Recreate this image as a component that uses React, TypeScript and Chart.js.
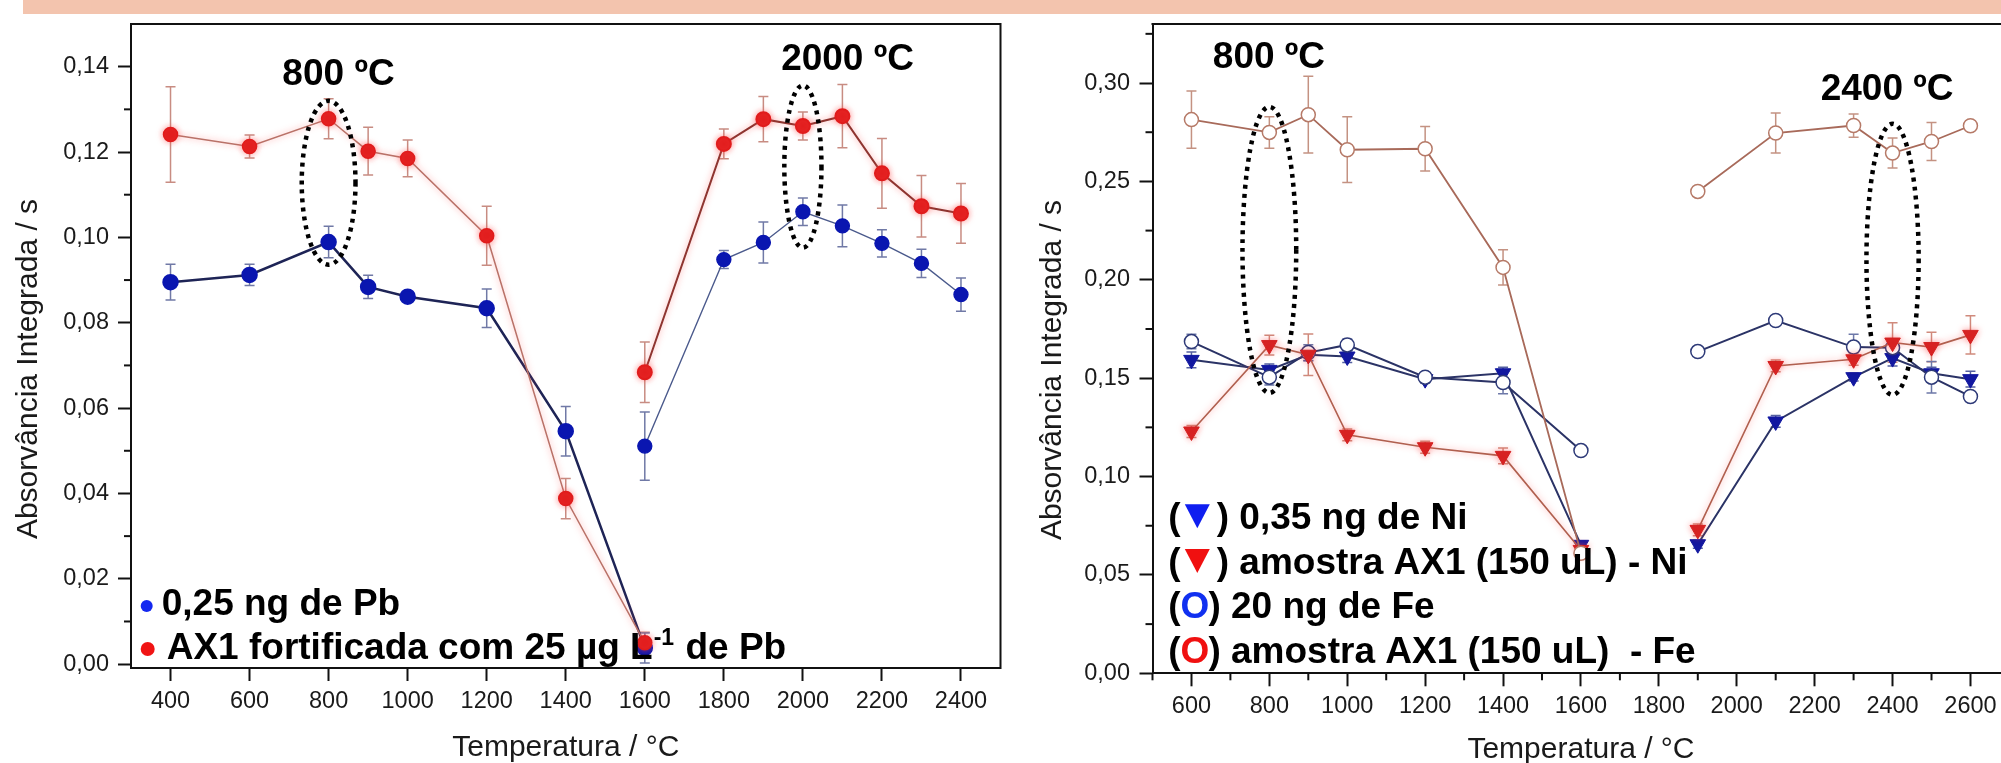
import React, { useEffect, useRef } from 'react';
import { Chart, registerables } from 'chart.js';

Chart.register(...registerables);

const FONT = "'Liberation Sans', Arial, Helvetica, sans-serif";

// ---------------- Left chart: Pb ----------------
const pbTempA = [400, 600, 800, 900, 1000, 1200, 1400, 1600];
const pbTempB = [1600, 1800, 1900, 2000, 2100, 2200, 2300, 2400];
const pbStdA = [0.0895, 0.0912, 0.0989, 0.0884, 0.0861, 0.0834, 0.0546, 0.0038];
const pbStdErrA = [0.0042, 0.0025, 0.0037, 0.0027, 0.001, 0.0045, 0.0058, 0.0035];
const pbStdB = [0.0511, 0.0948, 0.0988, 0.106, 0.1027, 0.0986, 0.0939, 0.0866];
const pbStdErrB = [0.008, 0.0021, 0.0048, 0.0032, 0.0049, 0.0032, 0.0033, 0.0039];
const pbSampleA = [0.1241, 0.1213, 0.1278, 0.1202, 0.1185, 0.1004, 0.0388, 0.005];
const pbSampleErrA = [0.0112, 0.0027, 0.0047, 0.0056, 0.0043, 0.0069, 0.0047, 0.0025];
const pbSampleB = [0.0684, 0.1219, 0.1277, 0.1261, 0.1284, 0.115, 0.1073, 0.1056];
const pbSampleErrB = [0.0071, 0.0035, 0.0053, 0.0033, 0.0074, 0.0082, 0.0072, 0.007];
const pbXTicks = [400, 600, 800, 1000, 1200, 1400, 1600, 1800, 2000, 2200, 2400];
const pbYTicks = [0, 0.02, 0.04, 0.06, 0.08, 0.1, 0.12, 0.14];
const pbYMinor = [0.01, 0.03, 0.05, 0.07, 0.09, 0.11, 0.13];

// ---------------- Right chart: Ni / Fe ----------------
const nfTempA = [600, 800, 900, 1000, 1200, 1400, 1600];
const nfTempB = [1900, 2100, 2300, 2400, 2500, 2600];
const feSampleA = [0.2814, 0.2749, 0.2839, 0.2661, 0.2666, 0.2063, 0.061];
const feSampleErrA = [0.0145, 0.008, 0.0195, 0.0167, 0.0113, 0.009, 0.002];
const feSampleB = [0.2449, 0.2746, 0.2784, 0.2644, 0.2703, 0.2783];
const feSampleErrB = [0.0025, 0.0102, 0.0059, 0.0076, 0.0097, 0.002];
const feStdA = [0.1686, 0.1505, 0.163, 0.1669, 0.1505, 0.1478, 0.1132];
const feStdErrA = [0.0037, 0.004, 0.004, 0.003, 0.002, 0.0057, 0.002];
const feStdB = [0.1635, 0.1793, 0.1658, 0.1655, 0.1505, 0.1407];
const feStdErrB = [0.002, 0.002, 0.0065, 0.003, 0.008, 0.0025];
const niStdA = [0.1593, 0.1542, 0.1619, 0.161, 0.1495, 0.1525, 0.0653];
const niStdErrA = [0.004, 0.003, 0.003, 0.003, 0.002, 0.003, 0.002];
const niStdB = [0.0656, 0.128, 0.1505, 0.1602, 0.1525, 0.1495];
const niStdErrB = [0.002, 0.003, 0.002, 0.004, 0.003, 0.004];
const niSampleA = [0.1229, 0.1668, 0.1619, 0.1212, 0.1149, 0.1105, 0.0627];
const niSampleErrA = [0.003, 0.005, 0.0105, 0.003, 0.003, 0.004, 0.003];
const niSampleB = [0.0729, 0.1562, 0.1596, 0.1681, 0.1658, 0.172];
const niSampleErrB = [0.003, 0.003, 0.003, 0.01, 0.0075, 0.0097];
const nfXTicks = [600, 800, 1000, 1200, 1400, 1600, 1800, 2000, 2200, 2400, 2600];
const nfXMinor = [500, 700, 900, 1100, 1300, 1500, 1700, 1900, 2100, 2300, 2500, 2700];
const nfYTicks = [0, 0.05, 0.1, 0.15, 0.2, 0.25, 0.3];
const nfYMinor = [0.025, 0.075, 0.125, 0.175, 0.225, 0.275, 0.325];

const Y_TITLE = 'Absorvância Integrada / s';
const X_TITLE = 'Temperatura / °C';

const pts = (xs: number[], ys: number[]) => xs.map((x, i) => ({ x, y: ys[i] }));

// ---------------- plugins ----------------
const errorBarPlugin = {
  id: 'errorBars',
  beforeDatasetsDraw(chart: any) {
    const { ctx, scales } = chart;
    const xs = scales.x, ys = scales.y;
    chart.data.datasets.forEach((ds: any) => {
      if (!ds.errors) return;
      ctx.save();
      ctx.strokeStyle = ds.errorColor;
      ctx.lineWidth = 1.5;
      ds.data.forEach((p: any, i: number) => {
        const e = ds.errors[i];
        if (!e || p.y == null) return;
        const px = xs.getPixelForValue(p.x);
        const y1 = ys.getPixelForValue(p.y + e);
        const y2 = ys.getPixelForValue(p.y - e);
        ctx.beginPath();
        ctx.moveTo(px, y1); ctx.lineTo(px, y2);
        ctx.moveTo(px - 5, y1); ctx.lineTo(px + 5, y1);
        ctx.moveTo(px - 5, y2); ctx.lineTo(px + 5, y2);
        ctx.stroke();
      });
      ctx.restore();
    });
  },
};

const glowPlugin = {
  id: 'glow',
  beforeDatasetDraw(chart: any, args: any) {
    const ds = chart.data.datasets[args.index];
    if (ds.glow) {
      chart.ctx.shadowColor = ds.glow;
      chart.ctx.shadowBlur = 6;
    }
  },
  afterDatasetDraw(chart: any) {
    chart.ctx.shadowColor = 'rgba(0,0,0,0)';
    chart.ctx.shadowBlur = 0;
  },
};

const minorTickPlugin = {
  id: 'minorTicks',
  afterDraw(chart: any, _a: any, opts: any) {
    const { ctx, chartArea, scales } = chart;
    ctx.save();
    ctx.strokeStyle = '#111';
    ctx.lineWidth = 2;
    (opts.x || []).forEach((v: number) => {
      const px = scales.x.getPixelForValue(v);
      ctx.beginPath(); ctx.moveTo(px, chartArea.bottom); ctx.lineTo(px, chartArea.bottom + 7); ctx.stroke();
    });
    (opts.y || []).forEach((v: number) => {
      const py = scales.y.getPixelForValue(v);
      ctx.beginPath(); ctx.moveTo(chartArea.left, py); ctx.lineTo(chartArea.left - 7, py); ctx.stroke();
    });
    // frame: top and right edges
    ctx.beginPath();
    ctx.moveTo(chartArea.left - 1, chartArea.top);
    ctx.lineTo(chartArea.right, chartArea.top);
    ctx.lineTo(chartArea.right, chartArea.bottom + 1);
    ctx.stroke();
    // rotated y-axis title
    ctx.translate(opts.titleX, opts.titleY);
    ctx.rotate(-Math.PI / 2);
    ctx.font = `30px ${FONT}`;
    ctx.fillStyle = '#1a1a1a';
    ctx.textAlign = 'center';
    ctx.textBaseline = 'middle';
    ctx.fillText(Y_TITLE, 0, 0);
    ctx.restore();
  },
};

const annotationPlugin = {
  id: 'annot',
  afterDatasetsDraw(chart: any, _a: any, opts: any) {
    const { ctx, scales } = chart;
    const xs = scales.x, ys = scales.y;
    ctx.save();
    (opts.ellipses || []).forEach((e: any) => {
      const cx = xs.getPixelForValue(e.x), cy = ys.getPixelForValue(e.y);
      const rx = Math.abs(xs.getPixelForValue(e.x + e.rx) - cx);
      const ry = Math.abs(ys.getPixelForValue(e.y + e.ry) - cy);
      ctx.beginPath();
      ctx.setLineDash([4, 5]);
      ctx.lineWidth = 4.5;
      ctx.strokeStyle = '#000';
      ctx.ellipse(cx, cy, rx, ry, 0, 0, Math.PI * 2);
      ctx.stroke();
    });
    ctx.setLineDash([]);
    ctx.fillStyle = '#000';
    ctx.font = `bold 37px ${FONT}`;
    ctx.textAlign = 'center';
    ctx.textBaseline = 'alphabetic';
    (opts.labels || []).forEach((l: any) => {
      ctx.fillText(l.text, xs.getPixelForValue(l.x), ys.getPixelForValue(l.y));
    });
    ctx.restore();
  },
};

const leftLegendPlugin = {
  id: 'leftLegend',
  afterDraw(chart: any) {
    const { ctx, chartArea } = chart;
    const L = chartArea.left, B = chartArea.bottom;
    ctx.save();
    ctx.textAlign = 'left';
    ctx.textBaseline = 'alphabetic';
    ctx.fillStyle = '#1428F0';
    ctx.beginPath(); ctx.arc(L + 15.7, B - 62, 6, 0, Math.PI * 2); ctx.fill();
    ctx.fillStyle = '#F01414';
    ctx.beginPath(); ctx.arc(L + 16.7, B - 19, 7, 0, Math.PI * 2); ctx.fill();
    ctx.fillStyle = '#000';
    ctx.font = `bold 37px ${FONT}`;
    ctx.fillText('0,25 ng de Pb', L + 30.7, B - 53);
    let x = L + 35.7;
    const base = B - 9;
    const t1 = 'AX1 fortificada com 25 µg L';
    ctx.fillText(t1, x, base);
    x += ctx.measureText(t1).width;
    ctx.font = `bold 23px ${FONT}`;
    ctx.fillText('-1', x + 1, base - 14);
    x += ctx.measureText('-1').width + 2;
    ctx.font = `bold 37px ${FONT}`;
    ctx.fillText(' de Pb', x, base);
    ctx.restore();
  },
};

const rightLegendPlugin = {
  id: 'rightLegend',
  afterDraw(chart: any) {
    const { ctx, chartArea } = chart;
    const L = chartArea.left, B = chartArea.bottom;
    ctx.save();
    ctx.textAlign = 'left';
    ctx.textBaseline = 'alphabetic';
    ctx.font = `bold 37px ${FONT}`;
    const x0 = L + 15.8;
    const tri = (color: string, base: number, text: string) => {
      ctx.fillStyle = '#000';
      ctx.fillText('(', x0, base);
      ctx.fillStyle = color;
      const cx = x0 + 29;
      ctx.beginPath();
      ctx.moveTo(cx - 12.5, base - 25);
      ctx.lineTo(cx + 12.5, base - 25);
      ctx.lineTo(cx, base - 1);
      ctx.closePath();
      ctx.fill();
      ctx.fillStyle = '#000';
      ctx.fillText(')', x0 + 48.4, base);
      ctx.fillText(text, x0 + 48.4 + ctx.measureText(')').width, base);
    };
    const circ = (color: string, base: number, text: string) => {
      let x = x0;
      ctx.fillStyle = '#000';
      ctx.fillText('(', x, base);
      x += ctx.measureText('(').width;
      ctx.fillStyle = color;
      ctx.fillText('O', x, base);
      x += ctx.measureText('O').width - 1;
      ctx.fillStyle = '#000';
      ctx.fillText(text, x, base);
    };
    tri('#0F1EF0', B - 144, ' 0,35 ng de Ni');
    tri('#F01010', B - 99.3, ' amostra AX1 (150 uL) - Ni');
    circ('#1030F0', B - 55, ') 20 ng de Fe');
    circ('#F01010', B - 10, ') amostra AX1 (150 uL)  - Fe');
    ctx.restore();
  },
};

const tickFont = { family: FONT, size: 23.5 };
const titleFont = { family: FONT, size: 30, lineHeight: 1 };
const gridOpts = { display: true, drawOnChartArea: false, drawTicks: true, tickLength: 13, tickWidth: 2, tickColor: '#111' };
const borderOpts = { display: true, color: '#111', width: 2 };
const fmtY = (v: any) => Number(v).toFixed(2).replace('.', ',');

function leftConfig(): any {
  return {
    type: 'line',
    data: {
      datasets: [
        { label: 'AX1 fortificada A', data: pts(pbTempA, pbSampleA), errors: pbSampleErrA, errorColor: '#C88C82', glow: 'rgba(255,70,70,0.55)',
          borderColor: '#B97268', borderWidth: 1.5, pointBackgroundColor: '#E01C1C', pointBorderColor: '#E01C1C', pointRadius: 7 },
        { label: 'AX1 fortificada B', data: pts(pbTempB, pbSampleB), errors: pbSampleErrB, errorColor: '#C88C82', glow: 'rgba(255,70,70,0.55)',
          borderColor: '#8E3530', borderWidth: 2, pointBackgroundColor: '#E01C1C', pointBorderColor: '#E01C1C', pointRadius: 7 },
        { label: '0,25 ng de Pb A', data: pts(pbTempA, pbStdA), errors: pbStdErrA, errorColor: '#7079A6',
          borderColor: '#1E2456', borderWidth: 2.5, pointBackgroundColor: '#0A16B0', pointBorderColor: '#0A16B0', pointRadius: 7 },
        { label: '0,25 ng de Pb B', data: pts(pbTempB, pbStdB), errors: pbStdErrB, errorColor: '#7079A6',
          borderColor: '#4B5A8C', borderWidth: 1.4, pointBackgroundColor: '#0A16B0', pointBorderColor: '#0A16B0', pointRadius: 7 },
      ],
    },
    options: {
      animation: false,
      responsive: false,
      devicePixelRatio: 1,
      events: [],
      layout: { padding: { left: 0, top: 24, right: 8, bottom: 0 } },
      plugins: {
        legend: { display: false },
        tooltip: { enabled: false },
        minorTicks: { y: pbYMinor, titleX: 29, titleY: 369 },
        annot: {
          ellipses: [
            { x: 800, y: 0.1128, rx: 68, ry: 0.0192 },
            { x: 2000, y: 0.1166, rx: 47, ry: 0.019 },
          ],
          labels: [
            { text: '800 ºC', x: 825, y: 0.1358 },
            { text: '2000 ºC', x: 2113, y: 0.1393 },
          ],
        },
      },
      scales: {
        x: {
          type: 'linear', position: 'bottom', min: 300, max: 2500,
          afterBuildTicks: (axis: any) => { axis.ticks = pbXTicks.map((value) => ({ value })); },
          afterFit: (s: any) => { s.height = 95; },
          ticks: { font: tickFont, color: '#1a1a1a', padding: 6, maxRotation: 0, autoSkip: false, callback: (v: any) => String(v) },
          grid: gridOpts, border: borderOpts,
          title: { display: true, text: X_TITLE, font: titleFont, color: '#1a1a1a', padding: { top: 0, bottom: 0 } },
        },
        y: {
          type: 'linear', position: 'left', min: -0.0009, max: 0.15,
          afterBuildTicks: (axis: any) => { axis.ticks = pbYTicks.map((value) => ({ value })); },
          afterFit: (s: any) => { s.width = 131; },
          ticks: { font: tickFont, color: '#1a1a1a', padding: 9, callback: fmtY },
          grid: gridOpts, border: borderOpts,
          title: { display: false },
        },
      },
    },
    plugins: [errorBarPlugin, glowPlugin, minorTickPlugin, annotationPlugin, leftLegendPlugin],
  };
}

function rightConfig(): any {
  const redCircle = { borderColor: '#A86A5A', borderWidth: 1.8, pointStyle: 'circle', pointRadius: 7,
    pointBackgroundColor: '#ffffff', pointBorderColor: '#B67A68', pointBorderWidth: 1.5, errorColor: '#C49282' };
  const blueCircle = { borderColor: '#2B3366', borderWidth: 2, pointStyle: 'circle', pointRadius: 7,
    pointBackgroundColor: '#ffffff', pointBorderColor: '#2E3A78', pointBorderWidth: 1.5, errorColor: '#6D78A8' };
  const blueTri = { borderColor: '#2B3366', borderWidth: 2, pointStyle: 'triangle', pointRotation: 180, pointRadius: 9,
    pointBackgroundColor: '#1218A0', pointBorderColor: '#1218A0', pointBorderWidth: 1, errorColor: '#5560A0' };
  const redTri = { borderColor: '#B0604F', borderWidth: 1.6, pointStyle: 'triangle', pointRotation: 180, pointRadius: 9,
    pointBackgroundColor: '#D42020', pointBorderColor: '#D42020', pointBorderWidth: 1, errorColor: '#D08A7C', glow: 'rgba(255,70,70,0.5)' };
  return {
    type: 'line',
    data: {
      datasets: [
        { label: 'Fe AX1 A', data: pts(nfTempA, feSampleA), errors: feSampleErrA, ...redCircle },
        { label: 'Fe AX1 B', data: pts(nfTempB, feSampleB), errors: feSampleErrB, ...redCircle },
        { label: 'Ni AX1 A', data: pts(nfTempA, niSampleA), errors: niSampleErrA, ...redTri },
        { label: 'Ni AX1 B', data: pts(nfTempB, niSampleB), errors: niSampleErrB, ...redTri },
        { label: 'Fe 20 ng A', data: pts(nfTempA, feStdA), errors: feStdErrA, ...blueCircle },
        { label: 'Fe 20 ng B', data: pts(nfTempB, feStdB), errors: feStdErrB, ...blueCircle },
        { label: 'Ni 0,35 ng A', data: pts(nfTempA, niStdA), errors: niStdErrA, ...blueTri },
        { label: 'Ni 0,35 ng B', data: pts(nfTempB, niStdB), errors: niStdErrB, ...blueTri },
      ],
    },
    options: {
      animation: false,
      responsive: false,
      devicePixelRatio: 1,
      events: [],
      layout: { padding: { left: 0, top: 24, right: 10.6, bottom: 0 } },
      plugins: {
        legend: { display: false },
        tooltip: { enabled: false },
        minorTicks: { x: nfXMinor, y: nfYMinor, titleX: 42.7, titleY: 370 },
        annot: {
          ellipses: [
            { x: 800, y: 0.2152, rx: 69, ry: 0.0727 },
            { x: 2400, y: 0.2104, rx: 67, ry: 0.0689 },
          ],
          labels: [
            { text: '800 ºC', x: 799, y: 0.3076 },
            { text: '2400 ºC', x: 2386, y: 0.2915 },
          ],
        },
      },
      scales: {
        x: {
          type: 'linear', position: 'bottom', min: 500, max: 2700,
          afterBuildTicks: (axis: any) => { axis.ticks = nfXTicks.map((value) => ({ value })); },
          afterFit: (s: any) => { s.height = 91.7; },
          ticks: { font: tickFont, color: '#1a1a1a', padding: 6, maxRotation: 0, autoSkip: false, callback: (v: any) => String(v) },
          grid: gridOpts, border: borderOpts,
          title: { display: true, text: X_TITLE, font: titleFont, color: '#1a1a1a', padding: { top: 0, bottom: 0 } },
        },
        y: {
          type: 'linear', position: 'left', min: 0, max: 0.33,
          afterBuildTicks: (axis: any) => { axis.ticks = nfYTicks.map((value) => ({ value })); },
          afterFit: (s: any) => { s.width = 142.5; },
          ticks: { font: tickFont, color: '#1a1a1a', padding: 9.5, callback: fmtY },
          grid: gridOpts, border: borderOpts,
          title: { display: false },
        },
      },
    },
    plugins: [errorBarPlugin, glowPlugin, minorTickPlugin, annotationPlugin, rightLegendPlugin],
  };
}

export default function App() {
  const leftRef = useRef<HTMLCanvasElement>(null);
  const rightRef = useRef<HTMLCanvasElement>(null);
  useEffect(() => {
    const c1 = new Chart(leftRef.current as HTMLCanvasElement, leftConfig());
    const c2 = new Chart(rightRef.current as HTMLCanvasElement, rightConfig());
    return () => { c1.destroy(); c2.destroy(); };
  }, []);
  return (
    <div style={{ position: 'fixed', left: 0, top: 0, width: 2001, height: 763, overflow: 'hidden', background: '#ffffff' }}>
      <div style={{ position: 'absolute', left: 23, top: 0, width: 1978, height: 14, background: '#F3C4AE' }} />
      <canvas ref={leftRef} width={1010} height={763} style={{ position: 'absolute', left: 0, top: 0, width: 1010, height: 763 }} />
      <canvas ref={rightRef} width={1010} height={765} style={{ position: 'absolute', left: 1010, top: 0, width: 1010, height: 765 }} />
    </div>
  );
}
